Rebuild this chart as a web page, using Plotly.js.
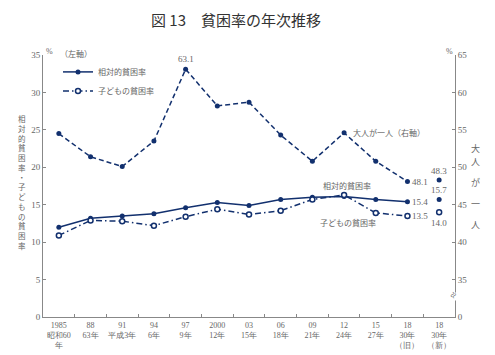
<!DOCTYPE html>
<html>
<head>
<meta charset="utf-8">
<script src="https://cdn.plot.ly/plotly-3.0.1.min.js"></script>
<style>html,body{margin:0;padding:0;background:#fff;}#chart{width:495px;height:355px;}</style>
</head>
<body>
<div id="chart"></div>
<script>
const categories = ["1985<br>昭和60<br>年","88<br>63年","91<br>平成3年","94<br>6年","97<br>9年","2000<br>12年","03<br>15年","06<br>18年","09<br>21年","12<br>24年","15<br>27年","18<br>30年<br>（旧）","18<br>30年<br>（新）"];
const relativePoverty = [12.0,13.2,13.5,13.8,14.6,15.3,14.9,15.7,16.0,16.1,15.7,15.4,15.7];
const childPoverty = [10.9,12.9,12.8,12.2,13.4,14.4,13.7,14.2,15.7,16.3,13.9,13.5,14.0];
const singleAdult = [54.5,51.4,50.1,53.5,63.1,58.2,58.7,54.3,50.8,54.6,50.8,48.1,48.3];
const leftTicks = [0,5,10,15,20,25,30,35];
const rightTickVals = [30,35,40,45,50,55,60,65];
const rightTickText = ["0","35","40","45","50","55","60","65"];

const navy = "#12306e";
const gray = "#666";
const serif = "Liberation Serif, DejaVu Serif, serif";
const jp = "Noto Sans CJK JP, sans-serif";

const n = categories.length;
const oldCats = categories.slice(0, n-1);
const newCat = [categories[n-1]];
const ms = 5;

const traces = [
  {x: oldCats, y: relativePoverty.slice(0,n-1), name: "相対的貧困率", type: "scatter", mode: "lines+markers",
   line: {color: navy, width: 1.5}, marker: {color: navy, size: ms}, showlegend: true},
  {x: oldCats, y: childPoverty.slice(0,n-1), name: "子どもの貧困率", type: "scatter", mode: "lines+markers",
   line: {color: navy, width: 1.5, dash: "6px,3px,1.5px,3px"}, marker: {color: "#fff", size: ms, line: {color: navy, width: 1.5}}, showlegend: true},
  {x: oldCats, y: singleAdult.slice(0,n-1), name: "大人が一人", type: "scatter", mode: "lines+markers", yaxis: "y2",
   line: {color: navy, width: 1.5, dash: "5px,3px"}, marker: {color: navy, size: ms}, showlegend: false},
  {x: newCat, y: relativePoverty.slice(n-1), type: "scatter", mode: "markers", marker: {color: navy, size: ms}, showlegend: false},
  {x: newCat, y: childPoverty.slice(n-1), type: "scatter", mode: "markers", marker: {color: "#fff", size: ms, line: {color: navy, width: 1.5}}, showlegend: false},
  {x: newCat, y: singleAdult.slice(n-1), type: "scatter", mode: "markers", yaxis: "y2", marker: {color: navy, size: ms}, showlegend: false}
];

const numFont = {family: serif, size: 9, color: gray};
const jpFont = {family: jp, size: 8, color: gray};

const annotations = [
  {x: categories[4], y: singleAdult[4], yref: "y2", text: singleAdult[4].toFixed(1), showarrow: false, yshift: 10, font: numFont},
  {x: categories[n-2], y: singleAdult[n-2], yref: "y2", text: singleAdult[n-2].toFixed(1), showarrow: false, xanchor: "left", xshift: 3, font: numFont},
  {x: categories[n-2], y: relativePoverty[n-2], yref: "y", text: relativePoverty[n-2].toFixed(1), showarrow: false, xanchor: "left", xshift: 3, font: numFont},
  {x: categories[n-2], y: childPoverty[n-2], yref: "y", text: childPoverty[n-2].toFixed(1), showarrow: false, xanchor: "left", xshift: 3, font: numFont},
  {x: categories[n-1], y: singleAdult[n-1], yref: "y2", text: singleAdult[n-1].toFixed(1), showarrow: false, yshift: 9, font: numFont},
  {x: categories[n-1], y: relativePoverty[n-1], yref: "y", text: relativePoverty[n-1].toFixed(1), showarrow: false, yshift: 9, font: numFont},
  {x: categories[n-1], y: childPoverty[n-1], yref: "y", text: childPoverty[n-1].toFixed(1), showarrow: false, yshift: -11, font: numFont},
  {x: 351, y: 125, xref: "paper", yref: "paper", text: "大人が一人（右軸）", showarrow: false, xanchor: "left", font: jpFont},
  {x: 373, y: 185, xref: "paper", yref: "paper", text: "相対的貧困率", showarrow: false, font: jpFont},
  {x: 378, y: 230, xref: "paper", yref: "paper", text: "子どもの貧困率", showarrow: false, font: jpFont},
  {x: 44, y: 45, xref: "paper", yref: "paper", text: "%", showarrow: false, font: {family: serif, size: 8, color: gray}},
  {x: 455, y: 45, xref: "paper", yref: "paper", text: "%", showarrow: false, font: {family: serif, size: 8, color: gray}},
  {x: 16, y: 182, xref: "paper", yref: "paper", text: "相<br>対<br>的<br>貧<br>困<br>率<br>・<br>子<br>ど<br>も<br>の<br>貧<br>困<br>率", showarrow: false, font: {family: jp, size: 7.5, color: gray}},
  {x: 455, y: 302, xref: "paper", yref: "paper", text: "≈", showarrow: false, textangle: -60, xshift: 6, bgcolor: "#fff", borderpad: 0, font: {family: serif, size: 11, color: gray}}
];
["大","人","が","一","人"].forEach((c, i) => {
  annotations.push({x: 482, y: 140 + i*21, xref: "paper", yref: "paper", text: c, showarrow: false, font: {family: jp, size: 9, color: gray}});
});
const L = 43, R = 455, T = 55, B = 317;
annotations.forEach(a => {
  if (a.xref === "paper") {
    a.x = (a.x - L) / (R - L);
    a.y = (B - a.y) / (B - T);
  }
});

const layout = {
  width: 495, height: 355,
  margin: {l: L, r: 495 - R, t: T, b: 355 - B},
  paper_bgcolor: "#fff", plot_bgcolor: "#fff",
  title: {text: "図 13　貧困率の年次推移", xref: "container", x: 236 / 495, xanchor: "center", yref: "container", y: 1 - 21 / 355, yanchor: "middle",
          font: {family: jp, size: 15, color: "#333"}},
  showlegend: true,
  legend: {x: (58 - L) / (R - L), y: (B - 47) / (B - T), xanchor: "left", yanchor: "top",
           title: {text: "（左軸）", font: {family: jp, size: 8, color: gray}},
           font: {family: jp, size: 8, color: gray}, bgcolor: "rgba(0,0,0,0)", itemwidth: 30, tracegroupgap: 2},
  xaxis: {type: "category", range: [-0.5, n - 0.5], showline: true, linecolor: "#888", linewidth: 1,
          ticks: "inside", ticklen: 3, tickcolor: "#888", tickson: "boundaries", showgrid: false, zeroline: false,
          tickangle: 0, tickfont: {family: serif, size: 8, color: gray}},
  yaxis: {range: [0, 35], tickvals: leftTicks, showline: true, linecolor: "#888", linewidth: 1,
          ticks: "inside", ticklen: 3, tickcolor: "#888", showgrid: false, zeroline: false,
          tickfont: {family: serif, size: 9, color: gray}},
  yaxis2: {overlaying: "y", side: "right", range: [30, 65], tickvals: rightTickVals, ticktext: rightTickText,
           showline: true, linecolor: "#888", linewidth: 1, ticks: "inside", ticklen: 3, tickcolor: "#888",
           showgrid: false, zeroline: false, tickfont: {family: serif, size: 9, color: gray}},
  annotations: annotations
};

Plotly.newPlot("chart", traces, layout, {displayModeBar: false, staticPlot: true});
</script>
</body>
</html>
